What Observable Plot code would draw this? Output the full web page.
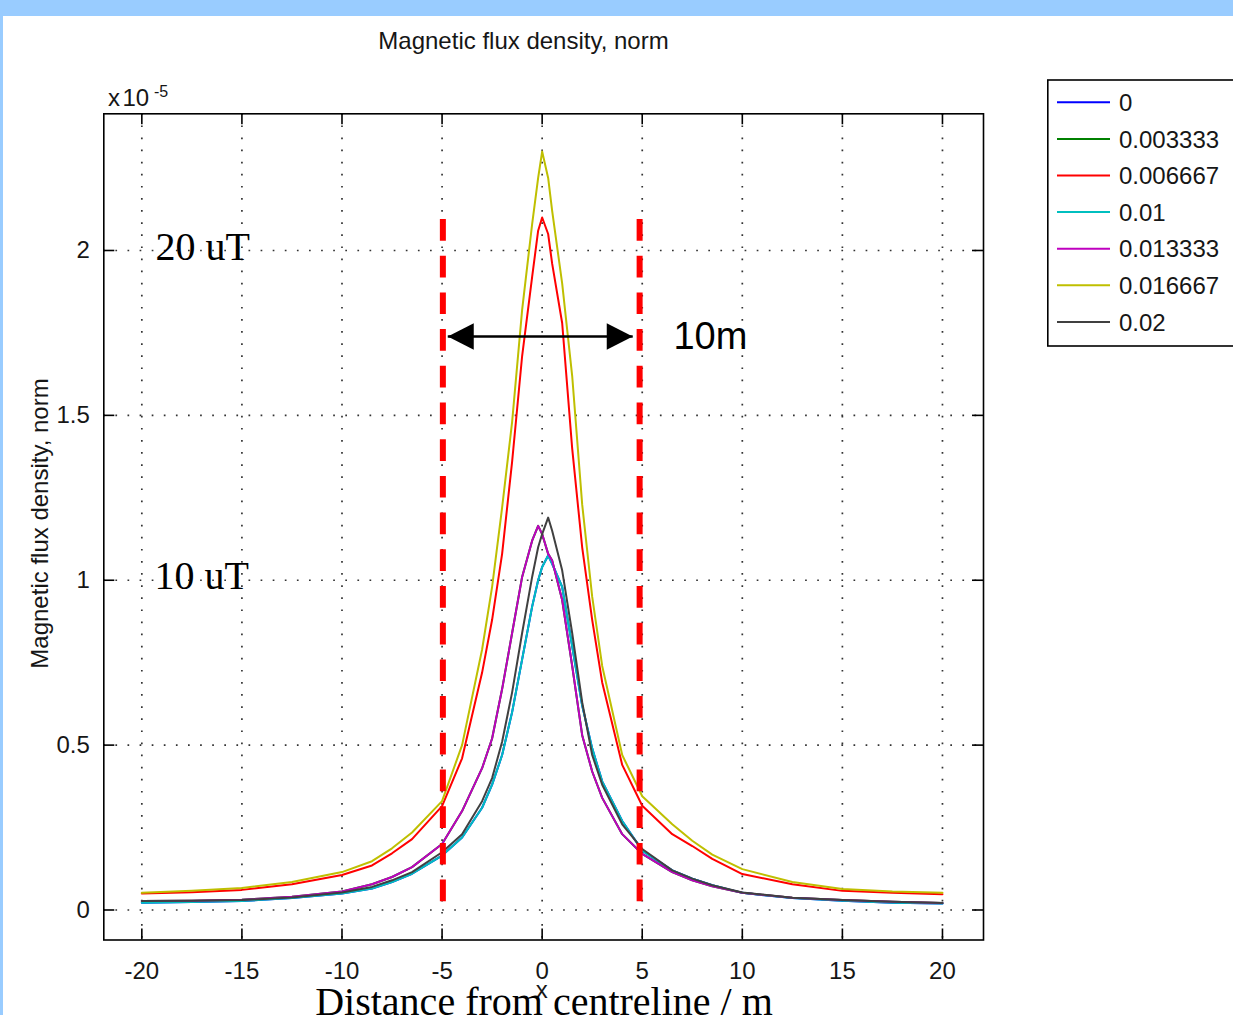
<!DOCTYPE html>
<html><head><meta charset="utf-8">
<script src="https://cdn.jsdelivr.net/npm/d3@7"></script>
<script src="https://cdn.jsdelivr.net/npm/@observablehq/plot@0.6"></script>
<style>
html,body{margin:0;padding:0;background:#99ccff;}
#page{position:relative;width:1233px;height:1015px;overflow:hidden;background:#99ccff;}
#paper{position:absolute;left:3px;top:16px;width:1230px;height:999px;background:#fff;}
#chart,#overlay{position:absolute;left:0;top:0;}
#overlay{pointer-events:none;}
</style></head><body>
<div id="page"><div id="paper"></div><div id="chart"></div><svg id="overlay" width="1233" height="1015"></svg></div>
<script>
// ---------------- data ----------------
const seriesNames  = ["0", "0.003333", "0.006667", "0.01", "0.013333", "0.016667", "0.02"];
const seriesColors = ["#0000ff", "#008000", "#ff0000", "#00bfbf", "#bf00bf", "#bfbf00", "#404040"];

// distance from centreline (m)
const xs = [-20, -17.5, -15, -12.5, -10, -8.5, -7.5, -6.5, -5, -4, -3, -2.5, -2, -1.5, -1, -0.5, -0.2, 0, 0.3, 0.5,
            1, 1.5, 2, 2.5, 3, 4, 5, 6.5, 7.5, 8.5, 10, 12.5, 15, 17.5, 20];

// flux density, units of 1e-5 T
const yRed     = [0.050, 0.054, 0.061, 0.078, 0.106, 0.135, 0.172, 0.215, 0.315, 0.46, 0.72, 0.88, 1.08, 1.36, 1.68, 1.92, 2.06, 2.10, 2.05, 1.96,
                  1.78, 1.40, 1.10, 0.88, 0.69, 0.44, 0.316, 0.23, 0.194, 0.155, 0.109, 0.078, 0.058, 0.052, 0.048];
const yCyan    = [0.022, 0.024, 0.027, 0.036, 0.050, 0.065, 0.085, 0.110, 0.165, 0.22, 0.31, 0.38, 0.47, 0.60, 0.76, 0.92, 1.00, 1.04, 1.075, 1.05,
                  0.98, 0.80, 0.62, 0.49, 0.39, 0.27, 0.180, 0.12, 0.095, 0.075, 0.052, 0.036, 0.028, 0.022, 0.020];
const yMagenta = [0.027, 0.028, 0.031, 0.040, 0.056, 0.078, 0.100, 0.130, 0.200, 0.30, 0.43, 0.52, 0.67, 0.84, 1.01, 1.12, 1.165, 1.14, 1.08, 1.06,
                  0.94, 0.74, 0.53, 0.42, 0.34, 0.23, 0.170, 0.115, 0.090, 0.072, 0.052, 0.037, 0.030, 0.025, 0.021];
const yYellow  = [0.052, 0.058, 0.067, 0.085, 0.115, 0.148, 0.187, 0.235, 0.330, 0.50, 0.79, 0.98, 1.22, 1.48, 1.82, 2.08, 2.22, 2.30, 2.22, 2.12,
                  1.90, 1.62, 1.23, 0.95, 0.74, 0.47, 0.345, 0.26, 0.210, 0.168, 0.124, 0.085, 0.064, 0.056, 0.052];
const yGray    = [0.027, 0.028, 0.030, 0.038, 0.053, 0.070, 0.090, 0.115, 0.175, 0.23, 0.33, 0.40, 0.51, 0.66, 0.84, 1.01, 1.10, 1.14, 1.19, 1.15,
                  1.03, 0.84, 0.63, 0.47, 0.38, 0.26, 0.185, 0.12, 0.095, 0.075, 0.053, 0.037, 0.030, 0.025, 0.021];
// blue and green series lie hidden under the cyan and magenta curves
const seriesValues = [yCyan, yMagenta, yRed, yCyan, yMagenta, yYellow, yGray];

const xTicks = [-20, -15, -10, -5, 0, 5, 10, 15, 20];
const yTicks = [0, 0.5, 1, 1.5, 2];
const xDomain = [-21.9, 22.05];
const yDomain = [-0.091, 2.4145];

// annotations
const dashX = [-4.96, 4.87];
const dashSpan = {top: 2.094, bottom: 0.02};
const arrowSpan = {x1: -4.715, x2: 4.525, y: 1.739};
const serifNotes = [{x: -19.32, y: 2.011, label: "20 uT"}, {x: -19.37, y: 1.013, label: "10 uT"}];
const sansNotes = [{x: 6.56, y: 1.738, label: "10m"}];

const titleText = "Magnetic flux density, norm";
const yLabelText = "Magnetic flux density, norm";
const xLabelText = "Distance from centreline / m";

// ---------------- chart ----------------
const W = 1233, H = 1015;
const mL = 103.3, mR = 250, mT = 113.3, mB = 75.5;
const innerW = W - mL - mR, innerH = H - mT - mB;

const rows = seriesNames.flatMap((name, i) => xs.map((x, j) => ({series: name, x, y: seriesValues[i][j]})));

const headRight = {draw(ctx) { ctx.moveTo(0, 0); ctx.lineTo(-26, -13.3); ctx.lineTo(-26, 13.3); ctx.closePath(); }};
const headLeft  = {draw(ctx) { ctx.moveTo(0, 0); ctx.lineTo(26, -13.3); ctx.lineTo(26, 13.3); ctx.closePath(); }};

const sans = "'Liberation Sans', Arial, Helvetica, sans-serif";
const serif = "'Liberation Serif', 'Times New Roman', serif";
const gridStyle = {stroke: "#333", strokeOpacity: 1, strokeWidth: 1.7, strokeDasharray: "1.7,10.4"};
const tickStyle = {stroke: "#000", strokeWidth: 1.6};

const chart = Plot.plot({
  width: W, height: H,
  marginLeft: mL, marginRight: mR, marginTop: mT, marginBottom: mB,
  x: {domain: xDomain},
  y: {domain: yDomain},
  color: {domain: seriesNames, range: seriesColors},
  style: {background: "transparent", fontFamily: sans, color: "#161616", overflow: "visible"},
  marks: [
    Plot.gridX(xTicks, gridStyle),
    Plot.gridY(yTicks, gridStyle),
    Plot.line(rows, {x: "x", y: "y", z: "series", stroke: "series", strokeWidth: 2, curve: "linear"}),
    Plot.ruleX(dashX, {x: d => d, y1: dashSpan.top, y2: dashSpan.bottom, stroke: "#ff0000", strokeWidth: 6, strokeDasharray: "21.7,15"}),
    Plot.link([arrowSpan], {x1: "x1", x2: "x2", y1: "y", y2: "y", stroke: "#000", strokeWidth: 2.6}),
    Plot.dot([arrowSpan], {x: "x1", y: "y", symbol: headLeft, fill: "#000", stroke: "none"}),
    Plot.dot([arrowSpan], {x: "x2", y: "y", symbol: headRight, fill: "#000", stroke: "none"}),
    Plot.text(serifNotes, {x: "x", y: "y", text: "label", textAnchor: "start", lineAnchor: "middle", fontFamily: serif, fontSize: 40, fill: "#000"}),
    Plot.text(sansNotes, {x: "x", y: "y", text: "label", textAnchor: "start", lineAnchor: "middle", fontFamily: sans, fontSize: 38, fill: "#000"}),
    Plot.tickX(xTicks, {x: d => d, insetTop: innerH - 11, ...tickStyle}),
    Plot.tickX(xTicks, {x: d => d, insetBottom: innerH - 11, ...tickStyle}),
    Plot.tickY(yTicks, {y: d => d, insetRight: innerW - 11, ...tickStyle}),
    Plot.tickY(yTicks, {y: d => d, insetLeft: innerW - 11, ...tickStyle}),
    Plot.axisX({ticks: xTicks, tickSize: 0, tickPadding: 22, fontSize: 24, label: null, tickFormat: d => String(d)}),
    Plot.axisY({ticks: yTicks, tickSize: 0, tickPadding: 14, fontSize: 24, label: null, tickFormat: d => String(d)}),
    Plot.frame({stroke: "#000", strokeWidth: 1.6})
  ]
});
document.getElementById("chart").appendChild(chart);

// ---------------- titles, labels, legend ----------------
const ov = d3.select("#overlay");
ov.append("text").attr("x", 523.5).attr("y", 48.5).attr("text-anchor", "middle")
  .attr("font-family", sans).attr("font-size", 24).attr("fill", "#161616").text(titleText);

const mult = ov.append("text").attr("font-family", sans).attr("font-size", 24).attr("fill", "#161616").attr("y", 106);
mult.append("tspan").attr("x", 108).text("x");
mult.append("tspan").attr("x", 122.5).text("10");
mult.append("tspan").attr("x", 154).attr("dy", -9.5).attr("font-size", 16).text("-5");

ov.append("text").attr("transform", "translate(48,523.5) rotate(-90)").attr("text-anchor", "middle")
  .attr("font-family", sans).attr("font-size", 24).attr("fill", "#161616").text(yLabelText);

ov.append("text").attr("x", 541.7).attr("y", 998).attr("text-anchor", "middle")
  .attr("font-family", sans).attr("font-size", 24).attr("fill", "#161616").text("x");
ov.append("text").attr("x", 544).attr("y", 1014.5).attr("text-anchor", "middle")
  .attr("font-family", serif).attr("font-size", 40).attr("fill", "#000").text(xLabelText);

// legend
const lg = ov.append("g");
lg.append("rect").attr("x", 1047.8).attr("y", 80).attr("width", 300).attr("height", 266)
  .attr("fill", "#fff").attr("stroke", "#000").attr("stroke-width", 1.6);
seriesNames.forEach((name, i) => {
  const cy = 102.3 + i * 36.6;
  lg.append("line").attr("x1", 1057).attr("x2", 1110).attr("y1", cy).attr("y2", cy)
    .attr("stroke", seriesColors[i]).attr("stroke-width", 2);
  lg.append("text").attr("x", 1119).attr("y", cy + 8.6).attr("font-family", sans).attr("font-size", 24)
    .attr("fill", "#161616").text(name);
});
</script>
</body></html>
